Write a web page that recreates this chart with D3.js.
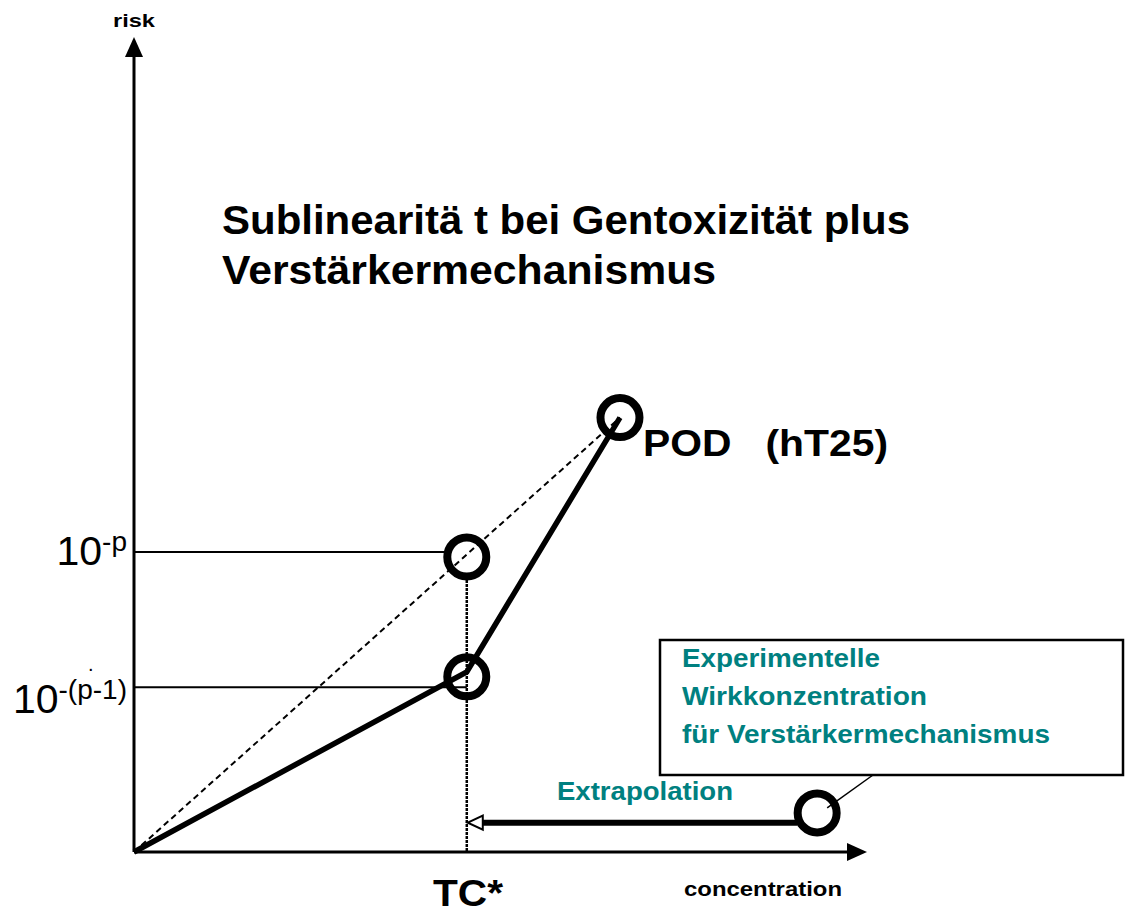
<!DOCTYPE html>
<html>
<head>
<meta charset="utf-8">
<script src="https://cdn.jsdelivr.net/npm/d3@7"></script>
<style>
  body { margin: 0; background: #fff; }
  text { font-family: "Liberation Sans", Arial, sans-serif; }
</style>
</head>
<body>
<svg id="chart" width="1125" height="915"></svg>
<script>
// data (concentration / risk in arbitrary units, 0..100)
var tickLevels = [36.8, 20.2];
var tickLabels = [["10", "-p"], ["10", "-(p-1)"]];
var solidCurve = [[0, 0], [45.4, 22.1], [66.3, 53.3]];
var linearCurve = [[0, 0], [66.3, 53.3]];
var tcValue = 45.4;
var circles = [[45.4, 36.2], [45.4, 21.5], [66.3, 53.3], [93.2, 4.8]];
var extrapolation = [[93.2, 3.6], [45.4, 3.6]];

var teal = "#008080";
var labelShift = [13, 26];   // baseline offset of the level labels

var svg = d3.select("#chart");

// scales
var x = d3.scaleLinear().domain([0, 100]).range([134, 867]);
var y = d3.scaleLinear().domain([0, 100]).range([852, 37]);

var line = d3.line()
    .x(function(d) { return x(d[0]); })
    .y(function(d) { return y(d[1]); });

// axes with arrow heads
svg.append("line")
    .attr("x1", x(0)).attr("y1", y(0))
    .attr("x2", x(0)).attr("y2", y(100) + 14)
    .attr("stroke", "#000").attr("stroke-width", 3);
svg.append("path")
    .attr("d", "M" + x(0) + "," + y(100) + "l-9,20h18z")
    .attr("fill", "#000");

svg.append("line")
    .attr("x1", x(0)).attr("y1", y(0))
    .attr("x2", x(100) - 14).attr("y2", y(0))
    .attr("stroke", "#000").attr("stroke-width", 3);
svg.append("path")
    .attr("d", "M" + x(100) + "," + y(0) + "l-20,-9v18z")
    .attr("fill", "#000");

// horizontal level lines
svg.selectAll(".level")
    .data(tickLevels)
  .enter().append("line")
    .attr("class", "level")
    .attr("x1", x(0))
    .attr("x2", function(d, i) { return i == 0 ? x(tcValue) - 22 : x(tcValue); })
    .attr("y1", function(d) { return y(d); })
    .attr("y2", function(d) { return y(d); })
    .attr("stroke", "#000").attr("stroke-width", 2);

// level labels with superscripts
var lab = svg.selectAll(".lab")
    .data(tickLevels)
  .enter().append("text")
    .attr("class", "lab")
    .attr("x", x(0) - 7)
    .attr("y", function(d, i) { return y(d) + labelShift[i]; })
    .attr("text-anchor", "end")
    .attr("font-size", 41);
lab.append("tspan").text(function(d, i) { return tickLabels[i][0]; });
lab.append("tspan")
    .attr("font-size", 28)
    .attr("dy", -14)
    .text(function(d, i) { return tickLabels[i][1]; });

// stray dot above lower label
svg.append("text")
    .attr("x", 88).attr("y", y(tickLevels[1]) - 16)
    .attr("font-size", 20)
    .text(".");

// vertical TC* line (dotted)
svg.append("line")
    .attr("x1", x(tcValue)).attr("x2", x(tcValue))
    .attr("y1", y(circles[0][1]) + 23).attr("y2", y(0))
    .attr("stroke", "#000").attr("stroke-width", 2.5)
    .attr("stroke-dasharray", "3,1");

// linear extrapolation (dashed)
svg.append("path")
    .attr("d", line(linearCurve))
    .attr("fill", "none")
    .attr("stroke", "#000").attr("stroke-width", 2)
    .attr("stroke-dasharray", "6,4");

// sublinear curve
svg.append("path")
    .attr("d", line(solidCurve))
    .attr("fill", "none")
    .attr("stroke", "#000").attr("stroke-width", 5.5);

// extrapolation arrow
svg.append("line")
    .attr("x1", x(extrapolation[0][0]) - 20).attr("y1", y(extrapolation[0][1]))
    .attr("x2", x(extrapolation[1][0]) + 15).attr("y2", y(extrapolation[1][1]))
    .attr("stroke", "#000").attr("stroke-width", 6);
svg.append("path")
    .attr("d", "M" + (x(extrapolation[1][0]) + 1) + "," + y(extrapolation[1][1]) + "l15,-7v14z")
    .attr("fill", "#fff").attr("stroke", "#000").attr("stroke-width", 2);

// circles
svg.selectAll(".pt")
    .data(circles)
  .enter().append("circle")
    .attr("class", "pt")
    .attr("cx", function(d) { return x(d[0]); })
    .attr("cy", function(d) { return y(d[1]); })
    .attr("r", 19.5)
    .attr("fill", "none")
    .attr("stroke", "#000").attr("stroke-width", 8);

// callout box
svg.append("rect")
    .attr("x", 660).attr("y", 640)
    .attr("width", 463).attr("height", 135)
    .attr("fill", "#fff")
    .attr("stroke", "#000").attr("stroke-width", 2.5);

svg.append("line")
    .attr("x1", x(circles[3][0]) + 10).attr("y1", y(circles[3][1]) - 5)
    .attr("x2", 873).attr("y2", 775)
    .attr("stroke", "#000").attr("stroke-width", 1.5);

var boxLines = [["Experimentelle", 198], ["Wirkkonzentration", 245], ["für Verstärkermechanismus", 368]];
svg.selectAll(".box")
    .data(boxLines)
  .enter().append("text")
    .attr("x", 682)
    .attr("y", function(d, i) { return 667 + i * 38; })
    .attr("font-size", 25)
    .attr("font-weight", "bold")
    .attr("fill", teal)
    .attr("textLength", function(d) { return d[1]; })
    .attr("lengthAdjust", "spacingAndGlyphs")
    .text(function(d) { return d[0]; });

// text annotations
function label(t, px, py, size, len, color) {
  svg.append("text")
      .attr("x", px).attr("y", py)
      .attr("font-size", size)
      .attr("font-weight", "bold")
      .attr("fill", color || "#000")
      .attr("textLength", len)
      .attr("lengthAdjust", "spacingAndGlyphs")
      .text(t);
}

label("Extrapolation", 557, 800, 26, 176, teal);
label("Sublinearitä t bei Gentoxizität plus", 222, 234, 40, 688);
label("Verstärkermechanismus", 222, 284, 40, 494);
label("POD\u00a0\u00a0\u00a0(hT25)", 643, 456, 36, 245);
label("TC*", 433, 906, 37, 70);
label("concentration", 684, 896, 21, 158);
label("risk", 113, 27, 19, 42);
</script>
</body>
</html>
